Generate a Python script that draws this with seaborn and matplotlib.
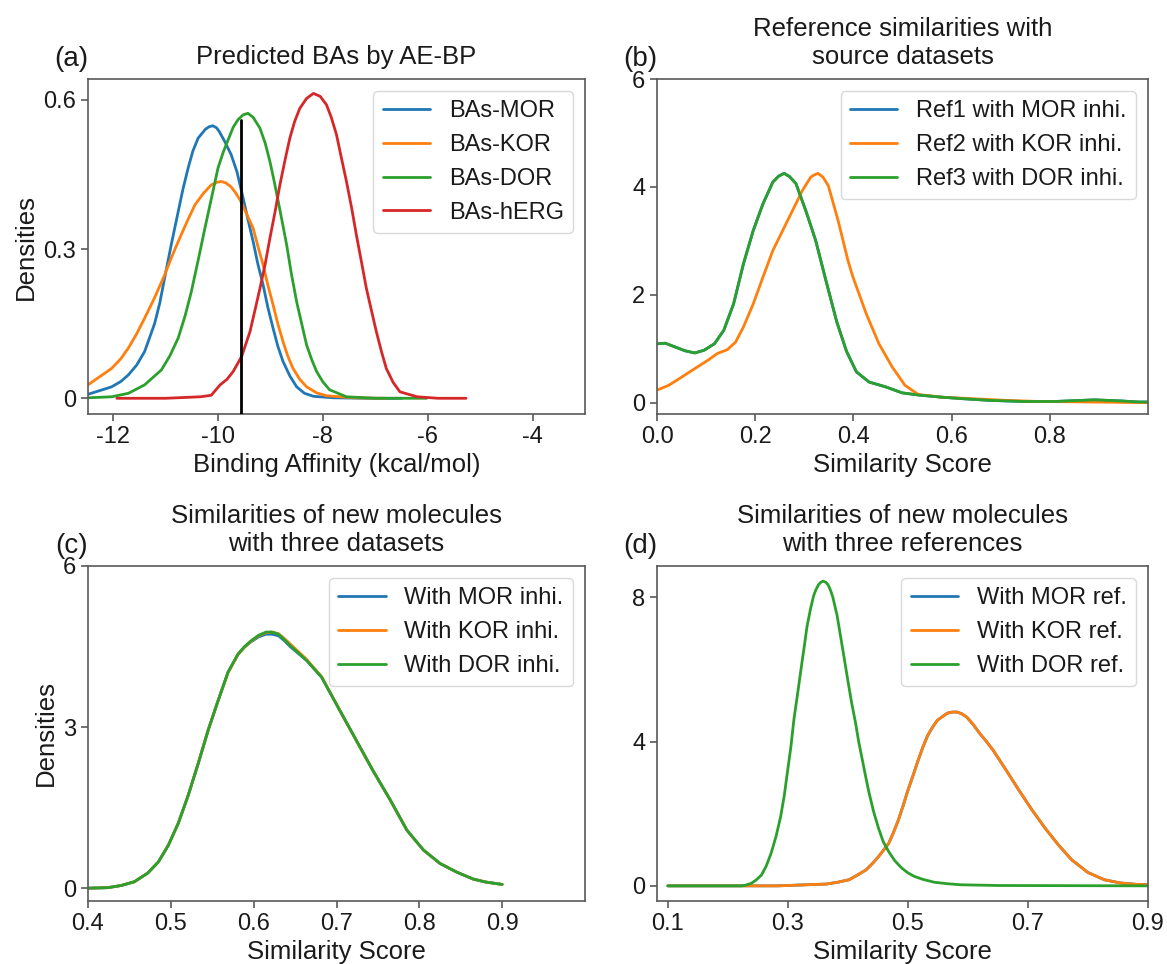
import numpy as np
import pandas as pd
import matplotlib
matplotlib.use("Agg")
import matplotlib.pyplot as plt
import seaborn as sns

# ---------------- data ----------------
# (a) predicted binding affinities
mor_a_x = [-12.48, -12.03, -11.85, -11.71, -11.55, -11.40, -11.21, -11.11, -11.02, -10.89, -10.76, -10.67,
           -10.57, -10.48, -10.38, -10.24, -10.17, -10.10, -10.03, -9.98, -9.87, -9.75, -9.64, -9.52,
           -9.43, -9.33, -9.24, -9.14, -9.05, -8.95, -8.86, -8.76, -8.63, -8.50, -8.35, -8.18, -7.80,
           -7.20, -6.50]
mor_a_y = [0.008, 0.023, 0.034, 0.047, 0.067, 0.094, 0.150, 0.192, 0.241, 0.310, 0.375, 0.420,
           0.463, 0.497, 0.523, 0.541, 0.546, 0.548, 0.544, 0.537, 0.516, 0.490, 0.456, 0.402,
           0.360, 0.315, 0.270, 0.228, 0.183, 0.141, 0.105, 0.074, 0.045, 0.023, 0.010, 0.004, 0.001,
           0.0, 0.0]
kor_a_x = [-12.48, -12.03, -11.85, -11.71, -11.55, -11.40, -11.22, -11.03, -10.90, -10.76, -10.60, -10.44,
           -10.28, -10.13, -10.03, -9.94, -9.85, -9.75, -9.67, -9.58, -9.46, -9.33, -9.24, -9.14,
           -9.05, -8.95, -8.86, -8.76, -8.67, -8.57, -8.44, -8.31, -8.12, -7.93, -7.40, -6.80]
kor_a_y = [0.027, 0.060, 0.080, 0.101, 0.130, 0.161, 0.200, 0.245, 0.280, 0.315, 0.353, 0.389,
           0.412, 0.429, 0.434, 0.436, 0.433, 0.425, 0.414, 0.399, 0.372, 0.342, 0.306, 0.268,
           0.228, 0.188, 0.150, 0.114, 0.085, 0.060, 0.038, 0.023, 0.011, 0.005, 0.001, 0.0]
dor_a_x = [-12.48, -12.03, -11.71, -11.40, -11.08, -10.92, -10.76, -10.63, -10.51, -10.38, -10.25, -10.12,
           -10.00, -9.90, -9.81, -9.71, -9.62, -9.52, -9.43, -9.33, -9.20, -9.10, -9.01, -8.93,
           -8.85, -8.77, -8.69, -8.60, -8.50, -8.40, -8.31, -8.21, -8.12, -8.00, -7.87, -7.55,
           -7.00, -6.02]
dor_a_y = [0.001, 0.003, 0.010, 0.027, 0.057, 0.085, 0.121, 0.165, 0.214, 0.277, 0.342, 0.405,
           0.463, 0.495, 0.519, 0.545, 0.560, 0.570, 0.573, 0.565, 0.543, 0.513, 0.476, 0.437,
           0.395, 0.352, 0.308, 0.250, 0.194, 0.148, 0.107, 0.077, 0.054, 0.033, 0.017, 0.003,
           0.0, 0.0]
herg_a_x = [-11.93, -11.00, -10.34, -10.13, -9.96, -9.83, -9.71, -9.55, -9.39, -9.30, -9.20, -9.10,
            -9.01, -8.91, -8.82, -8.72, -8.63, -8.54, -8.44, -8.31, -8.18, -8.05, -7.93, -7.84,
            -7.74, -7.65, -7.55, -7.45, -7.36, -7.26, -7.17, -7.07, -6.98, -6.88, -6.79, -6.66,
            -6.53, -6.20, -5.80, -5.27]
herg_a_y = [0.0, 0.0, 0.003, 0.006, 0.027, 0.038, 0.054, 0.084, 0.134, 0.175, 0.221, 0.270,
            0.322, 0.376, 0.429, 0.480, 0.523, 0.556, 0.583, 0.603, 0.613, 0.607, 0.590, 0.565,
            0.530, 0.485, 0.436, 0.382, 0.328, 0.272, 0.221, 0.175, 0.134, 0.093, 0.060, 0.032,
            0.013, 0.003, 0.0, 0.0]
threshold_a = -9.56
threshold_top = 0.56

# (b) reference similarities with source datasets
ref3_b_x = [0.0, 0.017, 0.037, 0.057, 0.077, 0.096, 0.117, 0.136, 0.156, 0.176, 0.196, 0.216, 0.236,
            0.248, 0.259, 0.270, 0.283, 0.303, 0.323, 0.343, 0.366, 0.386, 0.406, 0.432, 0.466, 0.499,
            0.532, 0.579, 0.625, 0.678, 0.745, 0.811, 0.891, 0.944, 0.981, 1.0]
ref3_b_y = [1.09, 1.10, 1.03, 0.96, 0.92, 0.97, 1.09, 1.34, 1.83, 2.57, 3.19, 3.69, 4.09,
            4.20, 4.25, 4.19, 4.06, 3.56, 3.01, 2.30, 1.50, 0.95, 0.57, 0.38, 0.29, 0.18,
            0.14, 0.10, 0.07, 0.04, 0.02, 0.02, 0.05, 0.03, 0.01, 0.01]
ref2_b_x = [0.0, 0.024, 0.050, 0.077, 0.103, 0.123, 0.143, 0.160, 0.176, 0.196, 0.216, 0.236, 0.256,
            0.276, 0.296, 0.313, 0.320, 0.328, 0.338, 0.349, 0.369, 0.389, 0.399, 0.426, 0.452, 0.479,
            0.505, 0.532, 0.579, 0.645, 0.711, 0.778, 0.878, 0.977, 1.0]
ref2_b_y = [0.23, 0.32, 0.47, 0.63, 0.78, 0.91, 0.98, 1.12, 1.40, 1.83, 2.33, 2.82, 3.19,
            3.56, 3.93, 4.18, 4.22, 4.25, 4.18, 4.02, 3.37, 2.63, 2.33, 1.65, 1.09, 0.66,
            0.32, 0.15, 0.10, 0.07, 0.04, 0.02, 0.01, 0.0, 0.0]
ref1_b_x = list(ref3_b_x)
ref1_b_y = list(ref3_b_y)

# (c) new molecules vs three datasets
sim_c_x = [0.400, 0.424, 0.440, 0.456, 0.472, 0.485, 0.497, 0.509, 0.521, 0.533, 0.545, 0.557, 0.569,
           0.581, 0.589, 0.597, 0.606, 0.615, 0.622, 0.630, 0.637, 0.644, 0.664, 0.682, 0.704, 0.724,
           0.744, 0.765, 0.785, 0.805, 0.825, 0.845, 0.865, 0.880, 0.900]
mor_c_y = [0.0, 0.01, 0.05, 0.12, 0.28, 0.49, 0.80, 1.21, 1.73, 2.32, 2.94, 3.49, 4.02,
           4.35, 4.49, 4.59, 4.68, 4.73, 4.73, 4.70, 4.61, 4.50, 4.24, 3.93, 3.31, 2.75,
           2.19, 1.64, 1.08, 0.71, 0.46, 0.30, 0.17, 0.115, 0.07]
kor_c_y = [0.0, 0.01, 0.05, 0.12, 0.28, 0.49, 0.80, 1.21, 1.73, 2.32, 2.94, 3.49, 4.01,
           4.35, 4.49, 4.60, 4.70, 4.76, 4.77, 4.74, 4.65, 4.55, 4.26, 3.94, 3.31, 2.75,
           2.19, 1.64, 1.08, 0.71, 0.46, 0.30, 0.17, 0.115, 0.07]
dor_c_y = [0.0, 0.01, 0.05, 0.12, 0.28, 0.49, 0.80, 1.21, 1.73, 2.32, 2.94, 3.49, 4.02,
           4.36, 4.50, 4.61, 4.71, 4.77, 4.77, 4.73, 4.63, 4.52, 4.24, 3.93, 3.31, 2.75,
           2.19, 1.64, 1.08, 0.71, 0.46, 0.30, 0.17, 0.115, 0.07]

# (d) new molecules vs three references
dor_d_x = [0.10, 0.223, 0.230, 0.239, 0.247, 0.256, 0.264, 0.272, 0.280, 0.288, 0.294, 0.299, 0.305,
           0.310, 0.316, 0.321, 0.327, 0.332, 0.338, 0.343, 0.347, 0.351, 0.355, 0.359, 0.363, 0.367,
           0.371, 0.375, 0.382, 0.388, 0.394, 0.400, 0.406, 0.413, 0.418, 0.424, 0.430, 0.435, 0.443,
           0.451, 0.459, 0.468, 0.478, 0.490, 0.500, 0.511, 0.525, 0.544, 0.565, 0.588, 0.650, 0.900]
dor_d_y = [0.0, 0.0, 0.02, 0.07, 0.16, 0.30, 0.55, 0.90, 1.35, 1.92, 2.50, 3.12, 3.85,
           4.60, 5.30, 5.90, 6.60, 7.20, 7.70, 8.05, 8.22, 8.35, 8.42, 8.45, 8.42, 8.35,
           8.20, 8.00, 7.50, 6.90, 6.30, 5.69, 5.10, 4.50, 4.00, 3.50, 3.00, 2.60, 2.05,
           1.60, 1.22, 0.95, 0.70, 0.49, 0.36, 0.26, 0.18, 0.10, 0.06, 0.03, 0.01, 0.0]
kor_d_x = [0.10, 0.283, 0.364, 0.383, 0.402, 0.416, 0.430, 0.441, 0.451, 0.459, 0.468, 0.476, 0.484,
           0.492, 0.500, 0.509, 0.517, 0.525, 0.533, 0.541, 0.549, 0.558, 0.566, 0.574, 0.582, 0.590,
           0.598, 0.609, 0.620, 0.631, 0.642, 0.653, 0.664, 0.685, 0.707, 0.729, 0.751, 0.773, 0.800,
           0.827, 0.854, 0.882, 0.950]
kor_d_y = [0.0, 0.0, 0.05, 0.10, 0.17, 0.30, 0.44, 0.62, 0.81, 0.98, 1.18, 1.48, 1.82,
           2.22, 2.65, 3.08, 3.48, 3.85, 4.17, 4.40, 4.59, 4.70, 4.79, 4.82, 4.82, 4.77,
           4.68, 4.47, 4.22, 4.00, 3.76, 3.48, 3.20, 2.65, 2.10, 1.59, 1.13, 0.72, 0.37,
           0.17, 0.08, 0.04, 0.01]
mor_d_x = list(kor_d_x)
mor_d_y = list(kor_d_y)

labels_a = ["BAs-MOR", "BAs-KOR", "BAs-DOR", "BAs-hERG"]
labels_b = ["Ref1 with MOR inhi.", "Ref2 with KOR inhi.", "Ref3 with DOR inhi."]
labels_c = ["With MOR inhi.", "With KOR inhi.", "With DOR inhi."]
labels_d = ["With MOR ref.", "With KOR ref.", "With DOR ref."]

titles = ["Predicted BAs by AE-BP",
          "Reference similarities with\nsource datasets",
          "Similarities of new molecules\nwith three datasets",
          "Similarities of new molecules\nwith three references"]
panel_tags = ["(a)", "(b)", "(c)", "(d)"]

# ---------------- style ----------------
sns.set_style("ticks")
plt.rcParams["font.family"] = ["Liberation Sans", "DejaVu Sans"]
plt.rcParams["axes.unicode_minus"] = False
plt.rcParams.update({
    "font.size": 17,
    "axes.edgecolor": "0.35",
    "axes.linewidth": 1.2,
    "xtick.color": "0.35",
    "ytick.color": "0.35",
    "xtick.labelcolor": "0.1",
    "ytick.labelcolor": "0.1",
    "xtick.labelsize": 17,
    "ytick.labelsize": 17,
    "xtick.major.size": 5,
    "ytick.major.size": 5,
    "xtick.major.width": 1.2,
    "ytick.major.width": 1.2,
    "text.color": "0.1",
    "axes.labelcolor": "0.1",
    "axes.labelsize": 18.5,
})
palette = sns.color_palette("tab10")[:4]

W, H = 1167, 964
fig = plt.figure(figsize=(W / 100, H / 100), dpi=100)


def add_ax(left, top, right, bottom):
    return fig.add_axes([left / W, 1 - bottom / H, (right - left) / W, (bottom - top) / H])


ax_a = add_ax(88, 79, 585, 414)
ax_b = add_ax(657, 79, 1148, 414)
ax_c = add_ax(88, 566, 585, 901)
ax_d = add_ax(657, 566, 1148, 901)


def long_df(xs, ys, names):
    frames = []
    for x, y, n in zip(xs, ys, names):
        frames.append(pd.DataFrame({"x": x, "y": y, "series": n}))
    return pd.concat(frames, ignore_index=True)


def draw(ax, df, names):
    sns.lineplot(data=df, x="x", y="y", hue="series", hue_order=names,
                 palette=palette[:len(names)], estimator=None, sort=False,
                 linewidth=2.0, ax=ax)
    h, l = ax.get_legend_handles_labels()
    ax.legend(h, l, loc="upper right", fontsize=17, frameon=True,
              edgecolor="0.85", framealpha=1.0)


df_a = long_df([mor_a_x, kor_a_x, dor_a_x, herg_a_x],
               [mor_a_y, kor_a_y, dor_a_y, herg_a_y], labels_a)
ax_a.set_ylim(-0.0316, 0.642)
ax_a.plot([threshold_a, threshold_a], [-0.0316, threshold_top], color="black", lw=2.0, zorder=5)
draw(ax_a, df_a, labels_a)
ax_a.set_xlim(-12.48, -3.0)
ax_a.set_ylim(-0.0316, 0.642)
ax_a.set_xticks([-12, -10, -8, -6, -4])
ax_a.set_yticks([0, 0.3, 0.6], ["0", "0.3", "0.6"])
ax_a.set_xlabel("Binding Affinity (kcal/mol)")
ax_a.set_ylabel("Densities")

df_b = long_df([ref1_b_x, ref2_b_x, ref3_b_x], [ref1_b_y, ref2_b_y, ref3_b_y], labels_b)
draw(ax_b, df_b, labels_b)
ax_b.set_xlim(0, 1.0)
ax_b.set_ylim(-0.2125, 6.0)
ax_b.set_xticks([0, 0.2, 0.4, 0.6, 0.8], ["0.0", "0.2", "0.4", "0.6", "0.8"])
ax_b.set_yticks([0, 2, 4, 6], ["0", "2", "4", "6"])
ax_b.set_xlabel("Similarity Score")
ax_b.set_ylabel("")

df_c = long_df([sim_c_x, sim_c_x, sim_c_x], [mor_c_y, kor_c_y, dor_c_y], labels_c)
draw(ax_c, df_c, labels_c)
ax_c.set_xlim(0.4, 1.0)
ax_c.set_ylim(-0.2385, 6.0)
ax_c.set_xticks([0.4, 0.5, 0.6, 0.7, 0.8, 0.9], ["0.4", "0.5", "0.6", "0.7", "0.8", "0.9"])
ax_c.set_yticks([0, 3, 6], ["0", "3", "6"])
ax_c.set_xlabel("Similarity Score")
ax_c.set_ylabel("Densities")

df_d = long_df([mor_d_x, kor_d_x, dor_d_x], [mor_d_y, kor_d_y, dor_d_y], labels_d)
draw(ax_d, df_d, labels_d)
ax_d.set_xlim(0.082, 0.9)
ax_d.set_ylim(-0.42, 8.87)
ax_d.set_xticks([0.1, 0.3, 0.5, 0.7, 0.9], ["0.1", "0.3", "0.5", "0.7", "0.9"])
ax_d.set_yticks([0, 4, 8], ["0", "4", "8"])
ax_d.set_xlabel("Similarity Score")
ax_d.set_ylabel("")

for ax, t, tag in zip([ax_a, ax_b, ax_c, ax_d], titles, panel_tags):
    ax.set_title(t, fontsize=18.5, pad=11)
    ax.text(0.0, 1.06, tag, transform=ax.transAxes, ha="right", va="center", fontsize=20)
    for s in ax.spines.values():
        s.set_visible(True)

fig.savefig("out.png", dpi=100)
